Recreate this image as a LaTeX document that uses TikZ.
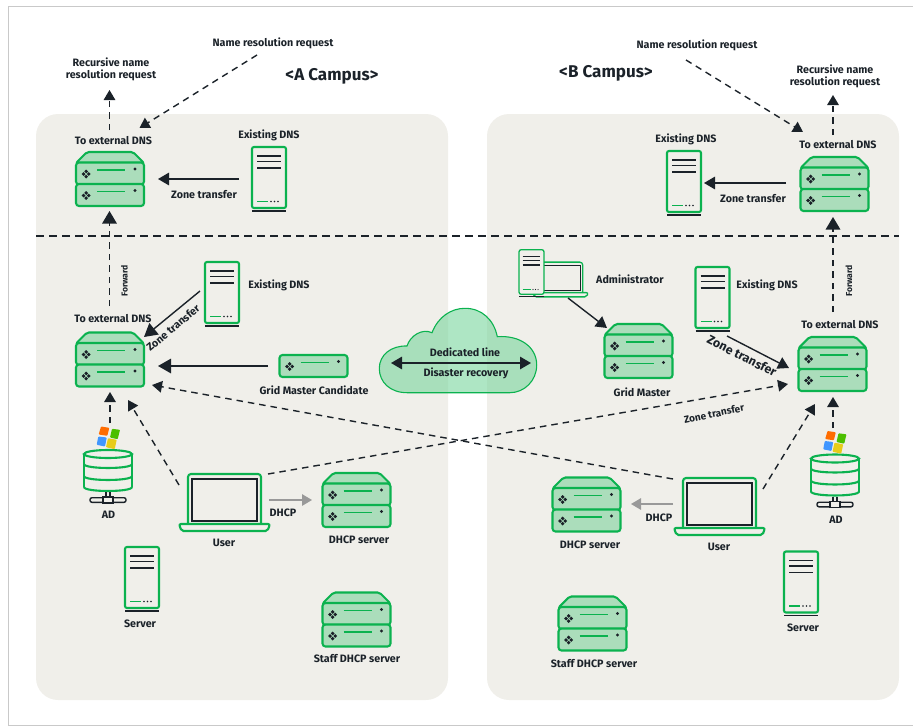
\documentclass[tikz,border=0pt]{standalone}
\usepackage{fontspec}
\setmainfont{Fira Sans}
\usetikzlibrary{arrows.meta, calc}

\definecolor{panelgray}{HTML}{F0EFEA}
\definecolor{framegray}{HTML}{C9C9C9}
\definecolor{ink}{HTML}{1B2229}
\definecolor{leaf}{HTML}{0BB24F}
\definecolor{leaflight}{HTML}{ABDDBB}
\definecolor{cloudgreen}{HTML}{78D59D}

\tikzset{
    iconbox/.style={inner sep=0, outer sep=0},
    lbl/.style={font=\bfseries\fontsize{10.7}{12}\selectfont, text=ink, align=center, inner sep=0, yshift=-0.8pt},
    campuslbl/.style={font=\bfseries\fontsize{17}{19}\selectfont, text=ink, inner sep=0, yshift=-1pt},
    smalllbl/.style={font=\bfseries\fontsize{8.6}{10}\selectfont, text=ink, inner sep=0},
    dashline/.style={ink, line width=1.4pt, dash pattern=on 6.5pt off 5pt},
    dasharrow/.style={dashline, -{Triangle[length=10pt, width=11.5pt]}},
    bigdasharrow/.style={dashline, -{Triangle[length=12.5pt, width=14.5pt]}},
    solidarrow/.style={ink, line width=1.4pt, -{Triangle[length=11pt, width=12.5pt]}},
    bigarrow/.style={ink, line width=1.4pt, -{Triangle[length=13pt, width=14.5pt]}},
    greyarrow/.style={draw=black!40, line width=1.4pt, -{Triangle[length=10pt, width=11.5pt]}},
    % one rack unit of a server
    unitbar/.pic={
        \draw[leaf, fill=leaflight, rounded corners=3pt] (-34,-11) rectangle (34,11);
        \foreach \dx/\dy in {-2.6/0, 2.6/0, 0/-2.6, 0/2.6} {
            \fill[ink] (-21.9+\dx,0.5+\dy) -- ++(-1.9,1.9) -- ++(-1.9,-1.9) -- ++(1.9,-1.9) -- cycle;
        }
        \draw[leaf, line width=1.9pt] (-13,-3.5) -- (15,-3.5);
        \fill[ink] (25,-4.5) circle (1.7);
    },
    stackicon/.pic={
        \node[iconbox, minimum width=68pt, minimum height=54pt] (-box) {};
        \draw[leaf, fill=leaflight, rounded corners=2pt] (-34,-16) -- (-23,-27) -- (23,-27) -- (34,-16) -- cycle;
        \pic at (0,-5.5) {unitbar};
        \pic at (0,16) {unitbar};
    },
    candicon/.pic={
        \node[iconbox, minimum width=68pt, minimum height=22pt] (-box) {};
        \pic at (0,0) {unitbar};
    },
    towericon/.pic={
        \node[iconbox, minimum width=34pt, minimum height=61pt] (-box) {};
        \draw[leaf, fill=panelgray, rounded corners=2pt] (-17,-30.5) rectangle (17,30.5);
        \foreach \ly in {-21.5, -16, -9.5} {
            \draw[ink, line width=1.4pt] (-12,\ly) -- (12,\ly);
        }
        \draw[leaf, line width=1.9pt] (-12,24) -- (-1,24);
        \foreach \lx in {2, 5.5, 9} {
            \fill[ink] (\lx,24) circle (0.8);
        }
        \draw[ink, line width=1.4pt] (-17,33.5) -- (17,33.5);
    },
    laptopicon/.pic={
        \node[iconbox, minimum width=91pt, minimum height=57pt] (-box) {};
        \draw[leaf, rounded corners=3pt] (-36.5,21.5) -- (-36.5,-28.5) -- (36.5,-28.5) -- (36.5,21.5);
        \draw[ink] (-32.5,-23.5) rectangle (32.5,18.5);
        \draw[leaf, rounded corners=2pt] (-45.5,21.5) -- (-43,28.5) -- (43,28.5) -- (45.5,21.5) -- cycle;
    },
    dbicon/.pic={
        \node[iconbox, minimum width=48pt, minimum height=42pt] (-box) {};
        \draw[leaf] (-24,-17) -- (-24,16);
        \draw[leaf] (24,-17) -- (24,16);
        \draw[leaf] (0,-17) ellipse [x radius=24, y radius=4];
        \foreach \by in {-7, 5, 16} {
            \draw[leaf] (-24,\by) .. controls (-24,\by+5.3) and (24,\by+5.3) .. (24,\by);
        }
        \draw[ink, line width=1.4pt] (-2,21) -- (-2,26) (2,21) -- (2,26);
        \draw[ink, line width=1.4pt, rounded corners=2pt] (-18,26.7) rectangle (18,31.3);
        \draw[ink, line width=1.4pt, fill=panelgray] (-5,26) rectangle (5,32);
    },
    winflag/.pic={
        \fill[rounded corners=0.8pt, orange!85!red] (-8,-11) -- (0.3,-9.7) -- (-1.7,-1.7) -- (-10.3,-3) -- cycle;
        \fill[rounded corners=0.8pt, green!60!yellow!75!black] (3,-8.7) -- (11,-7.7) -- (8.7,1.7) -- (1,0) -- cycle;
        \fill[rounded corners=0.8pt, blue!55!cyan!75] (-10.7,-1) -- (-2.3,0) -- (-4,9) -- (-12.3,7.3) -- cycle;
        \fill[rounded corners=0.8pt, yellow!80!orange!90!black] (-1,0.7) -- (7.7,2.3) -- (5.7,11.7) -- (-3,9.7) -- cycle;
    }
}

\begin{document}
\begin{tikzpicture}[x=1pt, y=-1pt, line width=2.1pt]
    \useasboundingbox (0,0) rectangle (913,726);

    % Frame and campus panels
    \draw[framegray, line width=1pt] (913,6) -- (8,6) -- (8,725) -- (913,725);
    \fill[panelgray, rounded corners=22pt] (36,114) rectangle (448,700);
    \fill[panelgray, rounded corners=22pt] (487,114) rectangle (899,700);
    \draw[ink, line width=1.2pt, dash pattern=on 8pt off 5pt] (36,236) -- (899,236);

    % Cloud
    \node[iconbox, minimum width=158pt, minimum height=85pt] (cloud) at (458,350.5) {};
    \draw[leaf, line width=1.1pt, fill=cloudgreen, fill opacity=.6]
        (407,392.7) .. controls (390,392.7) and (379.3,382) .. (379.3,368.5)
        .. controls (379.3,355) and (391,345.5) .. (407,346)
        .. controls (410,336) and (422,328) .. (432,332.7)
        .. controls (438,317) and (451,308.3) .. (465,308.3)
        .. controls (482,308.3) and (494,320) .. (497.3,336.7)
        .. controls (520,335) and (536.7,347) .. (536.7,365)
        .. controls (536.7,381) and (524,392.7) .. (510,392.7) -- cycle;
    \node[lbl] (lineLbl) at (465,351) {Dedicated line};
    \node[lbl] (drLbl) at (466,373) {Disaster recovery};

    % === A Campus ===
    \node[campuslbl] (campusA) at (332,75) {<A Campus>};
    \node[lbl] (nameA) at (273,43) {Name resolution request};
    \node[lbl] (recA) at (111,69) {Recursive name\\resolution request};

    \pic (extTopA) at (110,179) {stackicon};
    \pic (extLowA) at (110,359.5) {stackicon};
    \pic (dhcpA) at (356.5,500) {stackicon};
    \pic (staffA) at (356.5,619.5) {stackicon};
    \pic (candA) at (313.5,366) {candicon};
    \pic (existTopA) at (269,177.5) {towericon};
    \pic (existLowA) at (222,292.5) {towericon};
    \pic (serverA) at (142,577.5) {towericon};
    \pic (userA) at (224.5,502.5) {laptopicon};
    \pic (adA) at (108,471) {dbicon};
    \pic at (109,437.5) {winflag};

    \node[lbl] (extTopLblA) at (113.5,140) {To external DNS};
    \node[lbl] (existTopLblA) at (269,135) {Existing DNS};
    \node[lbl] (zoneTopLblA) at (204,194) {Zone transfer};
    \node[smalllbl, rotate=90] (fwdLblA) at (124.5,281) {Forward};
    \node[lbl] (extLowLblA) at (113,318) {To external DNS};
    \node[lbl] (existLowLblA) at (279,285) {Existing DNS};
    \node[lbl, rotate=40] (zoneLowLblA) at (173,327) {Zone transfer};
    \node[lbl] (candLblA) at (314,389) {Grid Master Candidate};
    \node[lbl] (adLblA) at (108.5,514) {AD};
    \node[lbl] (userLblA) at (224,542) {User};
    \node[lbl] (dhcpArrowLblA) at (283,512) {DHCP};
    \node[lbl] (dhcpLblA) at (359,539) {DHCP server};
    \node[lbl] (serverLblA) at (140,623) {Server};
    \node[lbl] (staffLblA) at (357,658) {Staff DHCP server};

    % === B Campus ===
    \node[campuslbl] (campusB) at (606,72) {<B Campus>};
    \node[lbl] (nameB) at (697,45) {Name resolution request};
    \node[lbl] (recB) at (835,76) {Recursive name\\resolution request};

    \pic (extTopB) at (834.5,184) {stackicon};
    \pic[xscale=-1] (extLowB) at (832.5,364) {stackicon};
    \pic (gridB) at (638.5,351) {stackicon};
    \pic (dhcpB) at (586.5,504.5) {stackicon};
    \pic (staffB) at (592.5,623.5) {stackicon};
    \pic (existTopB) at (684,181.5) {towericon};
    \pic (existLowB) at (712.5,297.5) {towericon};
    \pic (serverB) at (801,582) {towericon};
    \pic (userB) at (719.5,506.5) {laptopicon};
    \pic (adB) at (835,475.5) {dbicon};
    \pic at (835.5,442) {winflag};
    % Administrator: laptop behind a small tower
    \pic[scale=.61, line width=1.3pt] (adminLaptop) at (560.5,279.5) {laptopicon};
    \pic[scale=.73, line width=1.3pt] (adminTower) at (531.5,272) {towericon};

    \node[lbl] (existTopLblB) at (686,139) {Existing DNS};
    \node[lbl] (extTopLblB) at (838,144) {To external DNS};
    \node[lbl] (zoneTopLblB) at (753,198) {Zone transfer};
    \node[smalllbl, rotate=90] (fwdLblB) at (849,281) {Forward};
    \node[lbl] (adminLbl) at (630,278) {Administrator};
    \node[lbl] (existLowLblB) at (767,285) {Existing DNS};
    \node[lbl] (extLowLblB) at (840,324) {To external DNS};
    \node[lbl, rotate=-27, font=\bfseries\fontsize{12.4}{14}\selectfont] (zoneLowLblB) at (742,355) {Zone transfer};
    \node[lbl] (gridLblB) at (642,391) {Grid Master};
    \node[lbl, rotate=12, font=\bfseries\fontsize{10}{12}\selectfont] (zoneWanLbl) at (714,413) {Zone transfer};
    \node[lbl] (dhcpArrowLblB) at (659,517) {DHCP};
    \node[lbl] (adLblB) at (836,519) {AD};
    \node[lbl] (dhcpLblB) at (590,544) {DHCP server};
    \node[lbl] (userLblB) at (719,546) {User};
    \node[lbl] (serverLblB) at (803,627) {Server};
    \node[lbl] (staffLblB) at (594,663) {Staff DHCP server};

    % === Connectors, A side ===
    \draw[dasharrow] ($(extTopA-box)+(-0.5,-49)$) -- ($(recA)+(-1.5,20.2)$);
    \draw[dasharrow] ($(nameA)+(-16,11.2)$) -- ($(extTopA-box)+(29.5,-51)$);
    \draw[solidarrow] ($(existTopA-box)+(-30,1.5)$) -- ($(extTopA-box)+(48,0)$);
    \draw[bigdasharrow] ($(extLowA-box)+(-0.5,-53.5)$) -- ($(extTopA-box)+(-0.5,32)$);
    \draw[bigarrow] ($(existLowA-box)+(-22,-1.5)$) -- ($(extLowA-box)+(34,-22.5)$);
    \draw[bigarrow] ($(candA-box)+(-45.5,0)$) -- ($(extLowA-box)+(48,6.5)$);
    \draw[dasharrow] ($(adA-box)+(2,-48)$) -- ($(extLowA-box)+(0,32.5)$);
    \draw[dasharrow] ($(userA-box)+(-45.5,-17.5)$) -- ($(extLowA-box)+(18,40.5)$);
    \draw[greyarrow] ($(userA-box)+(44.5,-2.5)$) -- ($(dhcpA-box)+(-44.5,0)$);

    % === Connectors, across campuses ===
    \draw[dasharrow] ($(userB-box)+(-46.5,-27.5)$) -- ($(extLowA-box)+(42,25.5)$);
    \draw[dasharrow] ($(userA-box)+(43.5,-28.5)$) -- ($(extLowB-box)+(-44.5,20)$);
    \draw[{Triangle[length=11pt, width=12.5pt]}-{Triangle[length=11pt, width=12.5pt]}, ink, line width=1.4pt]
        ($(cloud)+(-67,12.5)$) -- ($(cloud)+(73,12.5)$);

    % === Connectors, B side ===
    \draw[dasharrow] ($(extTopB-box)+(-1.5,-49)$) -- ($(recB)+(-2,18.2)$);
    \draw[dasharrow] ($(nameB)+(-11,14.2)$) -- ($(extTopB-box)+(-31.5,-52)$);
    \draw[solidarrow] ($(extTopB-box)+(-48.5,-1)$) -- ($(existTopB-box)+(20,1.5)$);
    \draw[bigdasharrow] ($(extLowB-box)+(0.5,-52)$) -- ($(extTopB-box)+(-1.5,33)$);
    \draw[solidarrow] ($(adminLaptop-box)+(7.5,18.5)$) -- ($(gridB-box)+(-31.5,-23)$);
    \draw[solidarrow] ($(existLowB-box)+(14.5,38.5)$) -- ($(extLowB-box)+(-43.5,4)$);
    \draw[greyarrow] ($(userB-box)+(-46.5,-2.5)$) -- ($(dhcpB-box)+(44.5,-0.5)$);
    \draw[dasharrow] ($(userB-box)+(43.5,-17.5)$) -- ($(extLowB-box)+(-17.5,40)$);
    \draw[dasharrow] ($(adB-box)+(-2,-47.5)$) -- ($(extLowB-box)+(0.5,33)$);

\end{tikzpicture}
\end{document}
